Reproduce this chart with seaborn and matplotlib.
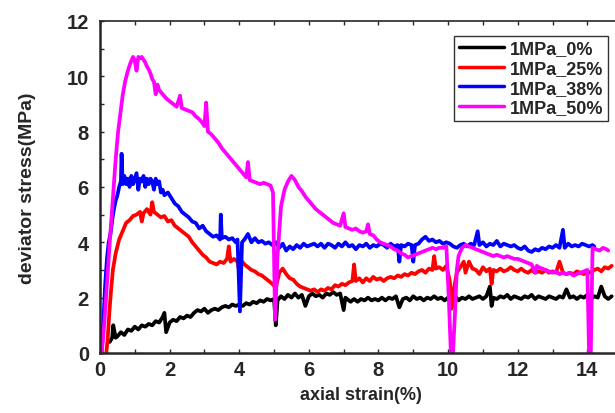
import matplotlib
matplotlib.use("Agg")
import matplotlib.pyplot as plt
import seaborn as sns
import pandas as pd
from matplotlib.ticker import MultipleLocator

sns.set_style("ticks")
plt.rcParams.update({'font.family': ['Liberation Sans', 'DejaVu Sans'],
                     'font.weight': 'bold',
                     'axes.labelweight': 'bold'})

labels = ['1MPa_0%', '1MPa_25%', '1MPa_38%', '1MPa_50%']
colors = ['black', 'red', 'blue', 'magenta']

# 1MPa_0%
strain_0 = [0.28, 0.35, 0.38, 0.45, 0.5, 0.6, 0.7, 0.8, 0.9, 1.0, 1.1, 1.2, 1.3, 1.4, 1.5, 1.6, 1.7, 1.8, 1.85,
            1.9, 2.0, 2.1, 2.2, 2.3, 2.4, 2.5, 2.6, 2.7, 2.8, 2.9, 3.0, 3.1, 3.2, 3.3, 3.4, 3.5, 3.6, 3.7, 3.8,
            3.9, 4.0, 4.1, 4.2, 4.3, 4.4, 4.5, 4.6, 4.7, 4.8, 4.9, 5.0, 5.05, 5.1, 5.2, 5.3, 5.4, 5.5, 5.6, 5.7,
            5.8, 5.9, 6.0, 6.1, 6.2, 6.3, 6.4, 6.5, 6.6, 6.7, 6.8, 6.9, 7.0, 7.05, 7.2, 7.3, 7.4, 7.5, 7.6, 7.7,
            7.8, 7.9, 8.0, 8.1, 8.2, 8.3, 8.4, 8.5, 8.6, 8.7, 8.8, 8.9, 9.0, 9.1, 9.2, 9.3, 9.4, 9.5, 9.6, 9.7,
            9.8, 9.9, 10.0, 10.1, 10.2, 10.3, 10.4, 10.5, 10.6, 10.7, 10.8, 10.9, 11.0, 11.1, 11.2, 11.25, 11.3,
            11.4, 11.5, 11.6, 11.7, 11.8, 11.9, 12.0, 12.1, 12.2, 12.3, 12.4, 12.5, 12.6, 12.7, 12.8, 12.9, 13.0,
            13.1, 13.2, 13.3, 13.4, 13.5, 13.6, 13.7, 13.8, 13.9, 14.0, 14.1, 14.2, 14.3, 14.4, 14.5, 14.6, 14.7]
stress_0 = [0.40, 0.55, 1.00, 0.55, 0.60, 0.75, 0.65, 0.85, 0.80, 0.95, 0.85, 1.00, 0.95, 1.05, 1.00, 1.15, 1.10,
            1.30, 1.45, 0.75, 1.10, 1.20, 1.15, 1.30, 1.25, 1.35, 1.30, 1.45, 1.55, 1.50, 1.60, 1.45, 1.55, 1.60,
            1.55, 1.65, 1.70, 1.65, 1.75, 1.70, 1.75, 1.70, 1.80, 1.75, 1.85, 1.80, 1.90, 1.85, 1.95, 1.90, 1.95,
            1.00, 1.90, 2.05, 1.95, 2.10, 2.00, 2.15, 2.00, 2.10, 1.70, 2.05, 2.15, 2.05, 2.10, 2.00, 2.15, 2.10,
            2.20, 2.10, 2.15, 1.55, 2.00, 1.85, 1.95, 1.85, 1.95, 1.90, 2.00, 1.90, 1.95, 1.90, 2.00, 1.90, 2.00,
            1.95, 2.05, 1.65, 1.95, 2.00, 1.90, 2.05, 1.95, 2.00, 1.90, 2.00, 1.95, 2.05, 1.95, 2.00, 1.90, 2.00,
            1.95, 2.05, 1.90, 2.00, 1.95, 2.05, 1.95, 2.00, 2.05, 1.95, 2.05, 2.40, 1.70, 2.00, 1.95, 2.05, 2.00,
            2.10, 1.95, 2.05, 2.00, 1.95, 2.05, 2.00, 2.10, 1.95, 2.05, 2.00, 1.95, 2.05, 2.00, 1.95, 2.05, 2.00,
            2.30, 2.00, 2.05, 1.95, 2.05, 2.00, 2.10, 1.95, 2.05, 2.00, 2.40, 2.05, 1.95, 2.05]

# 1MPa_25%
strain_25 = [0.18, 0.22, 0.27, 0.32, 0.37, 0.45, 0.55, 0.65, 0.75, 0.85, 0.95, 1.05, 1.15, 1.2, 1.25, 1.35, 1.45,
             1.5, 1.55, 1.65, 1.75, 1.85, 1.95, 2.05, 2.15, 2.25, 2.35, 2.45, 2.55, 2.65, 2.75, 2.85, 2.95, 3.05,
             3.15, 3.25, 3.35, 3.45, 3.55, 3.65, 3.7, 3.75, 3.85, 3.95, 4.0, 4.05, 4.15, 4.25, 4.35, 4.45, 4.55,
             4.65, 4.75, 4.85, 4.95, 5.05, 5.15, 5.25, 5.35, 5.45, 5.55, 5.65, 5.75, 5.85, 5.95, 6.05, 6.15, 6.25,
             6.35, 6.45, 6.55, 6.65, 6.75, 6.85, 6.95, 7.05, 7.15, 7.25, 7.3, 7.35, 7.45, 7.55, 7.65, 7.75, 7.85,
             7.95, 8.05, 8.15, 8.25, 8.35, 8.45, 8.55, 8.65, 8.75, 8.85, 8.95, 9.05, 9.15, 9.25, 9.35, 9.45, 9.55,
             9.6, 9.65, 9.75, 9.85, 9.95, 10.05, 10.1, 10.15, 10.25, 10.35, 10.45, 10.5, 10.6, 10.7, 10.8, 10.9,
             11.0, 11.1, 11.2, 11.25, 11.3, 11.4, 11.5, 11.6, 11.7, 11.8, 11.9, 12.0, 12.1, 12.2, 12.3, 12.4, 12.5,
             12.6, 12.7, 12.8, 12.9, 13.0, 13.1, 13.2, 13.3, 13.4, 13.5, 13.6, 13.7, 13.8, 13.9, 14.0, 14.1, 14.2,
             14.3, 14.4, 14.5, 14.6, 14.7]
stress_25 = [0.0, 0.5, 1.5, 2.3, 3.0, 3.6, 4.1, 4.4, 4.7, 4.8, 4.95, 5.0, 5.1, 4.75, 5.05, 5.2, 5.0, 5.45, 5.1,
             5.0, 4.9, 4.95, 4.75, 4.8, 4.6, 4.5, 4.4, 4.3, 4.2, 4.0, 3.85, 3.7, 3.55, 3.45, 3.3, 3.25, 3.2, 3.3,
             3.25, 3.4, 3.85, 3.3, 3.4, 3.3, 2.95, 3.35, 3.2, 3.1, 3.0, 2.95, 2.85, 2.8, 2.7, 2.6, 2.5, 2.35, 2.9,
             3.05, 2.85, 2.7, 2.65, 2.5, 2.4, 2.35, 2.3, 2.25, 2.3, 2.2, 2.3, 2.25, 2.35, 2.3, 2.45, 2.4, 2.5,
             2.45, 2.55, 2.6, 3.2, 2.6, 2.7, 2.55, 2.7, 2.6, 2.75, 2.65, 2.7, 2.6, 2.7, 2.75, 2.7, 2.8, 2.75, 2.85,
             2.8, 2.9, 2.85, 2.95, 3.0, 2.9, 3.05, 3.0, 3.5, 3.05, 3.1, 3.0, 3.15, 2.6, 1.6, 2.2, 2.9, 3.1, 3.3,
             2.9, 3.3, 3.05, 3.0, 2.85, 3.1, 2.95, 3.05, 2.5, 3.0, 2.95, 3.05, 2.95, 3.0, 3.1, 3.0, 2.95, 3.05,
             2.95, 2.9, 3.0, 2.9, 2.95, 2.9, 3.0, 2.9, 2.95, 2.9, 3.3, 2.9, 2.85, 2.9, 2.85, 2.95, 2.9, 2.85, 2.95,
             2.9, 3.0, 3.05, 2.95, 3.1, 3.05, 3.15]

# 1MPa_38%
strain_38 = [0.05, 0.1, 0.15, 0.2, 0.25, 0.3, 0.35, 0.4, 0.45, 0.5, 0.55, 0.6, 0.62, 0.65, 0.7, 0.75, 0.8, 0.85,
             0.9, 0.95, 1.0, 1.05, 1.1, 1.15, 1.2, 1.25, 1.3, 1.35, 1.4, 1.45, 1.5, 1.55, 1.6, 1.65, 1.7, 1.75,
             1.8, 1.85, 1.95, 2.05, 2.15, 2.25, 2.35, 2.45, 2.55, 2.65, 2.75, 2.85, 2.95, 3.05, 3.15, 3.25, 3.35,
             3.45, 3.47, 3.5, 3.6, 3.7, 3.8, 3.9, 3.95, 4.02, 4.08, 4.15, 4.25, 4.35, 4.45, 4.55, 4.65, 4.75, 4.85,
             4.95, 5.05, 5.15, 5.25, 5.35, 5.45, 5.55, 5.65, 5.75, 5.85, 5.95, 6.05, 6.15, 6.25, 6.35, 6.45, 6.55,
             6.65, 6.75, 6.85, 6.95, 7.05, 7.15, 7.25, 7.35, 7.45, 7.55, 7.65, 7.75, 7.85, 7.95, 8.05, 8.15, 8.25,
             8.35, 8.45, 8.55, 8.6, 8.65, 8.75, 8.85, 8.95, 9.0, 9.05, 9.15, 9.25, 9.35, 9.45, 9.55, 9.65, 9.75,
             9.85, 9.95, 10.05, 10.15, 10.25, 10.35, 10.45, 10.55, 10.65, 10.75, 10.85, 10.9, 11.0, 11.1, 11.2,
             11.3, 11.4, 11.5, 11.6, 11.7, 11.8, 11.9, 12.0, 12.1, 12.2, 12.3, 12.4, 12.5, 12.6, 12.7, 12.8, 12.9,
             13.0, 13.1, 13.2, 13.3, 13.35, 13.45, 13.55, 13.65, 13.75, 13.85, 13.95, 14.05, 14.15, 14.2]
stress_38 = [0.0, 1.2, 2.5, 3.4, 4.0, 4.3, 4.8, 5.2, 5.5, 5.7, 6.0, 6.2, 7.2, 6.1, 6.4, 6.1, 6.3, 6.0, 6.4, 6.1,
             6.3, 6.5, 5.9, 6.3, 6.2, 6.4, 6.0, 6.3, 6.1, 6.3, 6.2, 5.9, 6.3, 6.1, 6.2, 5.8, 5.9, 5.7, 5.8, 5.6,
             5.4, 5.3, 5.1, 5.0, 4.9, 4.75, 4.7, 4.5, 4.6, 4.4, 4.3, 4.2, 4.25, 4.1, 5.0, 4.15, 4.2, 4.1, 4.15,
             4.0, 4.1, 1.5, 4.0, 4.1, 4.3, 4.0, 4.15, 4.0, 4.05, 3.95, 4.0, 3.9, 4.0, 3.8, 3.95, 3.7, 3.85, 3.75,
             3.9, 3.8, 3.95, 3.85, 3.9, 3.95, 3.85, 3.95, 3.8, 3.95, 3.9, 3.8, 3.95, 3.85, 4.0, 3.85, 3.9, 3.75,
             3.9, 3.85, 3.95, 3.8, 3.9, 3.85, 3.95, 3.9, 3.8, 3.95, 3.85, 3.9, 3.3, 3.9, 3.85, 3.95, 3.9, 3.3,
             3.9, 3.95, 4.1, 4.2, 4.05, 4.1, 4.0, 4.05, 3.95, 4.0, 3.95, 3.85, 3.8, 3.9, 3.95, 3.85, 3.95, 3.9,
             4.4, 3.9, 4.0, 3.85, 3.95, 3.9, 4.05, 3.85, 3.95, 3.9, 3.85, 3.9, 3.8, 3.75, 3.85, 3.7, 3.65, 3.75,
             3.7, 3.8, 3.75, 3.85, 3.8, 3.9, 3.8, 4.45, 3.8, 3.95, 3.85, 3.9, 3.85, 3.95, 3.9, 3.85, 3.9, 3.85]

# 1MPa_50%
strain_50 = [0.05, 0.12, 0.2, 0.28, 0.37, 0.45, 0.52, 0.58, 0.65, 0.72, 0.8, 0.88, 0.95, 1.0, 1.05, 1.1, 1.15,
             1.2, 1.25, 1.3, 1.35, 1.4, 1.45, 1.5, 1.55, 1.6, 1.65, 1.7, 1.8, 1.9, 2.0, 2.1, 2.2, 2.3, 2.35, 2.45,
             2.55, 2.65, 2.75, 2.85, 2.95, 3.0, 3.05, 3.1, 3.2, 3.3, 3.4, 3.5, 3.6, 3.7, 3.8, 3.9, 4.0, 4.1, 4.2,
             4.25, 4.3, 4.4, 4.5, 4.6, 4.7, 4.8, 4.9, 4.97, 5.03, 5.1, 5.2, 5.3, 5.4, 5.5, 5.6, 5.7, 5.8, 5.9,
             6.0, 6.1, 6.2, 6.3, 6.4, 6.5, 6.6, 6.7, 6.8, 6.9, 7.0, 7.05, 7.15, 7.25, 7.35, 7.45, 7.55, 7.65, 7.7,
             7.75, 7.85, 7.95, 8.05, 8.15, 8.25, 8.35, 8.45, 8.55, 8.65, 8.75, 8.85, 8.95, 9.05, 9.15, 9.25, 9.35,
             9.45, 9.55, 9.65, 9.75, 9.85, 9.95, 10.02, 10.08, 10.14, 10.2, 10.25, 10.3, 10.4, 10.5, 10.6, 10.7,
             10.8, 10.9, 11.0, 11.1, 11.2, 11.3, 11.4, 11.5, 11.6, 11.7, 11.8, 11.9, 12.0, 12.1, 12.2, 12.3, 12.4,
             12.5, 12.55, 12.6, 12.7, 12.8, 12.9, 13.0, 13.1, 13.2, 13.3, 13.4, 13.5, 13.6, 13.7, 13.8, 13.9,
             14.0, 14.05, 14.1, 14.15, 14.25, 14.35, 14.45, 14.55, 14.6]
stress_50 = [0.0, 1.0, 2.5, 4.0, 5.6, 7.0, 8.0, 8.6, 9.3, 9.8, 10.2, 10.5, 10.7, 10.55, 10.2, 10.7, 10.65, 10.7,
             10.6, 10.5, 10.35, 10.25, 10.1, 9.9, 9.8, 9.35, 9.7, 9.5, 9.35, 9.2, 9.1, 9.0, 8.9, 9.3, 8.85, 8.8,
             8.75, 8.7, 8.55, 8.45, 8.3, 8.2, 9.05, 8.0, 7.9, 7.75, 7.6, 7.4, 7.25, 7.1, 6.95, 6.8, 6.65, 6.5,
             6.35, 6.9, 6.25, 6.2, 6.15, 6.1, 6.15, 6.1, 6.05, 5.8, 1.2, 3.5, 5.3, 5.9, 6.2, 6.4, 6.25, 6.0, 5.85,
             5.65, 5.5, 5.35, 5.2, 5.1, 5.0, 4.9, 4.8, 4.7, 4.65, 4.6, 5.05, 4.55, 4.5, 4.45, 4.5, 4.4, 4.35, 4.4,
             4.65, 4.3, 4.25, 4.1, 4.0, 3.95, 3.9, 3.85, 3.75, 3.7, 3.6, 3.55, 3.45, 3.5, 3.55, 3.6, 3.65, 3.7,
             3.75, 3.8, 3.75, 3.8, 3.8, 3.85, 2.0, 0.0, 0.0, 1.5, 3.0, 3.5, 3.8, 3.9, 3.85, 3.8, 3.75, 3.7, 3.65,
             3.6, 3.55, 3.5, 3.55, 3.5, 3.45, 3.5, 3.45, 3.4, 3.4, 3.35, 3.3, 3.25, 3.2, 2.9, 3.15, 3.1, 3.05, 3.0,
             2.95, 2.9, 2.95, 2.85, 2.9, 2.85, 2.9, 2.8, 2.85, 2.9, 2.95, 3.0, 0.0, 0.0, 3.8, 3.75, 3.7, 3.8,
             3.75, 3.7]

fig = plt.figure(figsize=(6.15, 4.14), dpi=100)
ax = fig.add_axes([0.1626, 0.145, 0.849, 0.802])

series = [(strain_0, stress_0), (strain_25, stress_25), (strain_38, stress_38), (strain_50, stress_50)]
for (xs, ys), lab, col in zip(series, labels, colors):
    df = pd.DataFrame({'strain': xs, 'stress': ys})
    sns.lineplot(data=df, x='strain', y='stress', color=col, lw=2.7, label=lab,
                 estimator=None, sort=False, ax=ax)

ax.set_xlim(0, 15)
ax.set_ylim(0, 12)
ax.xaxis.set_major_locator(MultipleLocator(2))
ax.xaxis.set_minor_locator(MultipleLocator(1))
ax.yaxis.set_major_locator(MultipleLocator(2))
ax.yaxis.set_minor_locator(MultipleLocator(1))
ax.tick_params(axis='both', which='major', labelsize=14.5, length=5, width=1.5, direction='out')
ax.tick_params(axis='y', which='major', pad=8)
ax.tick_params(axis='x', which='major', pad=5)
ax.tick_params(axis='both', which='minor', length=3, width=1.2, direction='out')
ax.tick_params(top=True, which='both', direction='in', length=3, width=1)
ax.tick_params(labeltop=False)
for lbl in ax.get_xticklabels() + ax.get_yticklabels():
    lbl.set_fontweight('bold')

for s in ['left', 'bottom']:
    ax.spines[s].set_linewidth(1.8)
ax.spines['top'].set_linewidth(1.2)
ax.spines['right'].set_visible(False)

ax.set_xlabel('axial strain(%)', fontsize=13, fontweight='bold', labelpad=5)
ax.set_ylabel('deviator stress(MPa)', fontsize=14, fontweight='bold', labelpad=22)

leg = ax.legend(loc='upper right', bbox_to_anchor=(0.972, 0.955), fontsize=13, frameon=True,
                fancybox=False, handlelength=2.5, labelspacing=0.15, borderpad=0.25,
                handletextpad=0.3, borderaxespad=0)
leg.get_frame().set_edgecolor('black')
leg.get_frame().set_linewidth(1)
for t in leg.get_texts():
    t.set_fontweight('bold')
for h in leg.get_lines():
    h.set_linewidth(2.5)

fig.savefig('out.png', dpi=100)
